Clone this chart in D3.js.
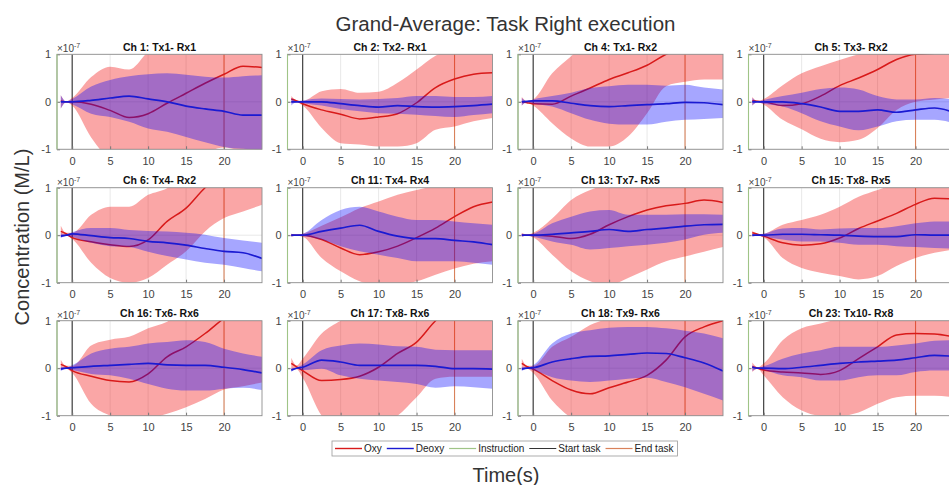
<!DOCTYPE html>
<html>
<head>
<meta charset="utf-8">
<script src="https://cdn.jsdelivr.net/npm/d3@7"></script>
<style>
  html, body { margin: 0; padding: 0; background: #fff; }
  svg { display: block; font-family: "Liberation Sans", Arial, Helvetica, sans-serif; }
</style>
</head>
<body>
<svg id="chart" width="949" height="485"></svg>
<script>
// ---- data (concentration in units of 1e-7 M/L) ----
const chartTitle = "Grand-Average: Task Right execution";
const xLabel = "Time(s)";
const yLabel = "Concentration (M/L)";

const panelTitles = [
  "Ch 1: Tx1- Rx1", "Ch 2: Tx2- Rx1", "Ch 4: Tx1- Rx2", "Ch 5: Tx3- Rx2",
  "Ch 6: Tx4- Rx2", "Ch 11: Tx4- Rx4", "Ch 13: Tx7- Rx5", "Ch 15: Tx8- Rx5",
  "Ch 16: Tx6- Rx6", "Ch 17: Tx8- Rx6", "Ch 18: Tx9- Rx6", "Ch 23: Tx10- Rx8"
];

const times = [-1.5, -0.8, 0, 2.5, 5, 7.5, 10, 12.5, 15, 17.5, 20, 22.5, 25];

const xTicks = [0, 5, 10, 15, 20];
const yTicks = [-1, 0, 1];
const xDomain = [-2, 25];
const yDomain = [-1, 1];

const eventNames = ["Instruction", "Start task", "End task"];
const eventTimes = [-2, 0, 20];

const seriesNames = ["Oxy", "Deoxy"];

const oxyMean = [
  [0.02, 0.0, 0.0, -0.05, -0.18, -0.33, -0.25, -0.03, 0.18, 0.39, 0.58, 0.75, 0.72],
  [0.06, 0.02, -0.04, -0.17, -0.26, -0.36, -0.32, -0.25, -0.02, 0.3, 0.48, 0.58, 0.61],
  [0.0, -0.02, -0.04, -0.05, 0.12, 0.29, 0.47, 0.61, 0.77, 1.0, 1.15, 1.3, 1.4],
  [0.02, 0.01, 0.0, -0.08, -0.04, 0.12, 0.34, 0.5, 0.68, 0.89, 1.0, 1.02, 1.05],
  [0.08, 0.03, -0.05, -0.14, -0.2, -0.24, -0.1, 0.29, 0.57, 1.0, 1.3, 1.5, 1.7],
  [0.0, 0.0, 0.0, -0.09, -0.27, -0.41, -0.35, -0.23, -0.05, 0.15, 0.39, 0.6, 0.7],
  [0.0, 0.0, 0.0, -0.02, -0.07, 0.02, 0.22, 0.39, 0.53, 0.62, 0.67, 0.74, 0.69],
  [0.05, 0.02, -0.02, -0.16, -0.21, -0.18, -0.06, 0.14, 0.3, 0.46, 0.65, 0.78, 0.76],
  [0.08, 0.03, -0.05, -0.17, -0.26, -0.29, -0.12, 0.24, 0.45, 0.73, 1.05, 1.3, 1.5],
  [0.1, 0.03, -0.05, -0.26, -0.24, -0.17, 0.02, 0.31, 0.55, 1.0, 1.3, 1.5, 1.7],
  [0.1, 0.03, -0.02, -0.26, -0.46, -0.54, -0.41, -0.29, -0.15, 0.17, 0.66, 0.87, 1.0],
  [0.03, 0.0, -0.04, -0.08, -0.1, -0.13, -0.05, 0.2, 0.45, 0.7, 0.73, 0.72, 0.66]
];
const oxyLow = [
  [-0.14, -0.01, -0.08, -0.75, -1.2, -1.3, -1.3, -1.25, -1.1, -1.05, -0.96, -1.03, -1.05],
  [-0.03, -0.01, -0.08, -0.55, -0.87, -0.9, -0.94, -0.94, -0.87, -0.59, -0.52, -0.41, -0.34],
  [-0.08, -0.01, -0.08, -0.45, -0.77, -0.94, -0.94, -0.73, -0.24, 0.33, 0.42, 0.47, 0.47],
  [-0.08, -0.01, -0.06, -0.38, -0.58, -0.78, -0.85, -0.8, -0.55, -0.17, 0.0, 0.05, 0.08],
  [-0.02, -0.01, -0.08, -0.58, -0.9, -1.0, -0.9, -0.62, -0.34, 0.08, 0.36, 0.5, 0.64],
  [-0.03, -0.01, -0.03, -0.48, -0.76, -0.97, -1.05, -1.05, -0.97, -0.83, -0.7, -0.6, -0.55],
  [-0.03, -0.01, -0.05, -0.41, -0.76, -0.97, -1.05, -0.9, -0.72, -0.55, -0.45, -0.35, -0.25],
  [-0.02, -0.01, -0.05, -0.48, -0.69, -0.79, -0.86, -0.93, -0.86, -0.65, -0.48, -0.37, -0.3],
  [-0.02, -0.01, -0.1, -0.75, -1.0, -1.1, -1.07, -0.96, -0.82, -0.65, -0.45, -0.38, -0.3],
  [-0.02, -0.02, -0.2, -1.0, -1.3, -1.3, -1.2, -1.0, -0.61, -0.22, -0.18, -0.18, -0.18],
  [-0.02, -0.01, -0.1, -0.68, -1.05, -1.3, -1.3, -1.3, -1.3, -1.3, -1.2, -1.1, -1.05],
  [-0.08, -0.01, -0.15, -0.61, -0.89, -1.0, -1.0, -0.93, -0.75, -0.61, -0.58, -0.58, -0.61]
];
const oxyHigh = [
  [0.14, 0.01, 0.08, 0.52, 0.74, 0.68, 1.05, 1.3, 1.4, 1.5, 1.6, 1.7, 1.7],
  [0.12, 0.03, 0.02, 0.22, 0.27, 0.19, 0.21, 0.4, 0.68, 0.97, 1.1, 1.2, 1.3],
  [0.1, 0.01, 0.05, 0.6, 0.96, 1.3, 1.5, 1.6, 1.7, 1.8, 1.9, 2.0, 2.0],
  [0.1, 0.01, 0.06, 0.35, 0.6, 0.75, 0.88, 1.0, 1.1, 1.2, 1.3, 1.4, 1.5],
  [0.2, 0.05, 0.05, 0.43, 0.6, 0.6, 0.85, 0.99, 1.3, 1.6, 1.9, 2.1, 2.3],
  [0.03, 0.01, 0.03, 0.2, 0.38, 0.57, 0.71, 0.85, 0.95, 1.05, 1.2, 1.4, 1.5],
  [0.05, 0.01, 0.05, 0.35, 0.74, 0.95, 1.1, 1.3, 1.4, 1.5, 1.6, 1.7, 1.7],
  [0.1, 0.02, 0.03, 0.22, 0.32, 0.43, 0.6, 0.81, 0.95, 1.1, 1.3, 1.5, 1.6],
  [0.18, 0.05, 0.05, 0.48, 0.6, 0.66, 0.84, 0.98, 1.2, 1.4, 1.6, 1.8, 2.0],
  [0.22, 0.06, 0.2, 0.73, 1.0, 1.2, 1.4, 1.6, 1.8, 2.0, 2.2, 2.3, 2.4],
  [0.2, 0.05, 0.05, 0.45, 0.66, 0.91, 1.05, 1.2, 1.4, 1.6, 1.9, 2.1, 2.2],
  [0.12, 0.02, 0.1, 0.59, 0.84, 0.94, 1.05, 1.2, 1.4, 1.6, 1.7, 1.8, 1.9]
];

const deoxyMean = [
  [0.0, 0.0, 0.0, 0.03, 0.08, 0.12, 0.06, 0.0, -0.09, -0.15, -0.2, -0.28, -0.28],
  [0.0, 0.0, 0.0, 0.0, -0.04, -0.08, -0.11, -0.08, -0.1, -0.11, -0.1, -0.08, -0.05],
  [0.0, 0.01, 0.02, 0.02, -0.03, -0.08, -0.1, -0.08, -0.06, -0.04, -0.01, -0.02, -0.06],
  [0.0, 0.0, 0.0, 0.0, -0.04, -0.11, -0.2, -0.2, -0.17, -0.22, -0.17, -0.13, -0.22],
  [-0.02, 0.0, 0.03, -0.01, -0.05, -0.07, -0.13, -0.16, -0.21, -0.28, -0.34, -0.37, -0.49],
  [0.0, 0.0, 0.0, 0.08, 0.15, 0.21, 0.08, -0.02, -0.07, -0.07, -0.11, -0.14, -0.2],
  [0.0, 0.0, 0.0, 0.02, 0.05, 0.08, 0.12, 0.08, 0.12, 0.15, 0.19, 0.22, 0.23],
  [0.0, 0.0, 0.0, 0.02, 0.02, 0.01, 0.0, -0.02, -0.03, -0.03, 0.01, 0.0, 0.0],
  [-0.02, 0.0, 0.01, 0.04, 0.06, 0.08, 0.1, 0.07, 0.06, 0.06, 0.02, -0.03, -0.1],
  [-0.04, 0.0, 0.02, 0.17, 0.13, 0.06, 0.06, 0.06, 0.06, 0.04, -0.01, -0.01, -0.02],
  [-0.02, 0.0, 0.01, 0.13, 0.2, 0.25, 0.26, 0.29, 0.32, 0.31, 0.22, 0.11, -0.06],
  [0.02, 0.0, 0.0, -0.01, 0.02, 0.06, 0.1, 0.13, 0.15, 0.17, 0.22, 0.27, 0.25]
];
const deoxyLow = [
  [-0.14, -0.01, -0.05, -0.25, -0.32, -0.42, -0.56, -0.63, -0.74, -0.85, -0.95, -0.99, -1.02],
  [-0.08, -0.01, -0.03, -0.08, -0.15, -0.2, -0.24, -0.25, -0.27, -0.3, -0.32, -0.28, -0.24],
  [-0.08, -0.01, -0.04, -0.1, -0.24, -0.38, -0.46, -0.48, -0.48, -0.42, -0.38, -0.36, -0.34],
  [-0.08, -0.01, -0.04, -0.1, -0.24, -0.41, -0.52, -0.6, -0.52, -0.41, -0.38, -0.38, -0.45],
  [-0.06, -0.01, -0.04, -0.16, -0.23, -0.25, -0.35, -0.44, -0.51, -0.58, -0.62, -0.69, -0.76],
  [-0.03, -0.01, -0.02, -0.09, -0.23, -0.34, -0.41, -0.48, -0.55, -0.55, -0.55, -0.58, -0.62],
  [-0.03, -0.01, -0.03, -0.13, -0.2, -0.3, -0.27, -0.23, -0.2, -0.16, -0.09, 0.01, 0.05],
  [-0.03, -0.01, -0.03, -0.09, -0.13, -0.13, -0.16, -0.2, -0.2, -0.23, -0.25, -0.27, -0.28],
  [-0.06, -0.01, -0.04, -0.12, -0.15, -0.22, -0.33, -0.43, -0.47, -0.47, -0.43, -0.41, -0.46],
  [-0.08, -0.01, -0.04, -0.01, -0.15, -0.22, -0.26, -0.29, -0.33, -0.41, -0.38, -0.4, -0.43],
  [-0.06, -0.01, -0.04, -0.19, -0.26, -0.29, -0.26, -0.22, -0.2, -0.29, -0.4, -0.54, -0.68],
  [-0.06, -0.01, -0.04, -0.15, -0.19, -0.26, -0.26, -0.19, -0.15, -0.15, -0.08, -0.05, -0.05]
];
const deoxyHigh = [
  [0.14, 0.01, 0.06, 0.32, 0.46, 0.54, 0.58, 0.6, 0.57, 0.53, 0.51, 0.54, 0.56],
  [0.08, 0.01, 0.03, 0.07, 0.06, 0.05, 0.06, 0.08, 0.12, 0.12, 0.1, 0.1, 0.12],
  [0.08, 0.01, 0.05, 0.12, 0.19, 0.29, 0.33, 0.36, 0.36, 0.34, 0.36, 0.3, 0.26],
  [0.08, 0.01, 0.04, 0.12, 0.19, 0.27, 0.3, 0.26, 0.12, 0.05, 0.05, 0.08, 0.05],
  [0.04, 0.01, 0.06, 0.15, 0.15, 0.11, 0.09, 0.08, 0.05, 0.01, -0.06, -0.11, -0.16],
  [0.03, 0.01, 0.03, 0.32, 0.53, 0.6, 0.5, 0.39, 0.32, 0.32, 0.29, 0.25, 0.22],
  [0.03, 0.01, 0.03, 0.25, 0.39, 0.5, 0.53, 0.43, 0.43, 0.43, 0.44, 0.44, 0.43],
  [0.03, 0.01, 0.03, 0.14, 0.15, 0.12, 0.14, 0.15, 0.15, 0.19, 0.25, 0.29, 0.29],
  [0.03, 0.01, 0.06, 0.31, 0.41, 0.45, 0.52, 0.55, 0.59, 0.55, 0.41, 0.31, 0.24],
  [0.0, 0.01, 0.08, 0.38, 0.48, 0.52, 0.5, 0.46, 0.45, 0.39, 0.38, 0.38, 0.38],
  [0.03, 0.01, 0.06, 0.52, 0.73, 0.8, 0.85, 0.87, 0.87, 0.84, 0.79, 0.73, 0.63],
  [0.06, 0.01, 0.04, 0.2, 0.31, 0.38, 0.45, 0.45, 0.45, 0.48, 0.52, 0.58, 0.59]
];

// ---- styling ----
const oxyColor = "#d81a1a";
const deoxyColor = "#1a1ad2";
const oxyFill = "rgb(240,0,0)";
const deoxyFill = "rgb(0,0,255)";
const fillOpacity = 0.35;
const eventColors = ["#9fc487", "#333333", "#d9825b"];
const textColor = "#444";

// ---- layout ----
const colLeft = [57, 287.5, 518, 748.5];
const rowTop = [54.3, 187.7, 320.7];
const pw = 205, ph = 95;

const svg = d3.select("#chart");

const x = d3.scaleLinear().domain(xDomain).range([0, pw]);
const y = d3.scaleLinear().domain(yDomain).range([ph, 0]);

const lineGen = d3.line()
  .x((d, i) => x(times[i]))
  .y(d => y(d))
  .curve(d3.curveMonotoneX);

const bandGen = d3.area()
  .x(d => x(d.t))
  .y0(d => y(d.lo))
  .y1(d => y(d.hi))
  .curve(d3.curveMonotoneX);

const band = (lo, hi) => times.map((t, i) => ({ t, lo: lo[i], hi: hi[i] }));

panelTitles.forEach((title, p) => {
  const col = p % 4, row = Math.floor(p / 4);
  const g = svg.append("g")
    .attr("transform", `translate(${colLeft[col]},${rowTop[row]})`);

  const clipId = "clip" + p;
  g.append("clipPath").attr("id", clipId)
    .append("rect").attr("width", pw).attr("height", ph);

  const plot = g.append("g").attr("clip-path", `url(#${clipId})`);

  // grid
  plot.selectAll(".vgrid").data(xTicks).enter().append("line")
    .attr("x1", d => x(d)).attr("x2", d => x(d))
    .attr("y1", 0).attr("y2", ph)
    .attr("stroke", "#e2e2e2").attr("stroke-width", 0.8);
  plot.selectAll(".hgrid").data(yTicks).enter().append("line")
    .attr("x1", 0).attr("x2", pw)
    .attr("y1", d => y(d)).attr("y2", d => y(d))
    .attr("stroke", "#e2e2e2").attr("stroke-width", 0.8);

  // task event markers (start / end)
  eventTimes.forEach((t, k) => {
    if (k === 0) return;
    plot.append("line")
      .attr("x1", x(t)).attr("x2", x(t))
      .attr("y1", 0).attr("y2", ph)
      .attr("stroke", eventColors[k]).attr("stroke-width", 1.1);
  });

  // HbO band and mean
  plot.append("path")
    .attr("d", bandGen(band(oxyLow[p], oxyHigh[p])))
    .attr("fill", oxyFill).attr("fill-opacity", fillOpacity);
  plot.append("path")
    .attr("d", lineGen(oxyMean[p]))
    .attr("fill", "none").attr("stroke", oxyColor).attr("stroke-width", 1.5);

  // HbR band and mean
  plot.append("path")
    .attr("d", bandGen(band(deoxyLow[p], deoxyHigh[p])))
    .attr("fill", deoxyFill).attr("fill-opacity", fillOpacity);
  plot.append("path")
    .attr("d", lineGen(deoxyMean[p]))
    .attr("fill", "none").attr("stroke", deoxyColor).attr("stroke-width", 1.7);

  // axes
  const xa = g.append("g").attr("transform", `translate(0,${ph})`)
    .call(d3.axisBottom(x).tickValues(xTicks).tickSize(-3).tickPadding(7.5)
      .tickFormat(d => String(d)));
  const ya = g.append("g")
    .call(d3.axisLeft(y).tickValues(yTicks).tickSize(-3).tickPadding(6)
      .tickFormat(d => String(d)));
  [xa, ya].forEach(a => {
    a.select(".domain").remove();
    a.selectAll(".tick line").attr("stroke", "#777");
    a.selectAll("text").attr("fill", textColor)
      .style("font-size", "11px")
      .style("font-family", '"Liberation Sans", Arial, sans-serif');
  });

  // box
  g.append("rect").attr("width", pw).attr("height", ph)
    .attr("fill", "none").attr("stroke", "#8e8e8e").attr("stroke-width", 0.9);

  // instruction marker sits on the left edge
  g.append("line")
    .attr("x1", x(eventTimes[0])).attr("x2", x(eventTimes[0]))
    .attr("y1", 0).attr("y2", ph)
    .attr("stroke", eventColors[0]).attr("stroke-width", 1.1);

  // exponent label
  const ex = g.append("text").attr("x", 0).attr("y", -2.2)
    .attr("fill", textColor).style("font-size", "10px");
  ex.append("tspan").text("\u00d710");
  ex.append("tspan").attr("dy", -4).style("font-size", "7px").text("-7");

  // panel title
  g.append("text")
    .attr("x", pw / 2).attr("y", -3.6)
    .attr("text-anchor", "middle")
    .attr("fill", "#111")
    .style("font-size", "10.5px").style("font-weight", "bold")
    .text(title);
});

// ---- figure title and shared labels ----
svg.append("text")
  .attr("x", 505.5).attr("y", 31)
  .attr("text-anchor", "middle").attr("fill", "#333")
  .style("font-size", "20.5px")
  .text(chartTitle);

svg.append("text")
  .attr("x", 506).attr("y", 481.5)
  .attr("text-anchor", "middle").attr("fill", "#333")
  .style("font-size", "20px")
  .text(xLabel);

svg.append("text")
  .attr("transform", "translate(29,237) rotate(-90)")
  .attr("text-anchor", "middle").attr("fill", "#333")
  .style("font-size", "20px")
  .text(yLabel);

// ---- legend ----
const legendItems = [
  { name: seriesNames[0], color: oxyColor, w: 1.4 },
  { name: seriesNames[1], color: deoxyColor, w: 1.4 },
  { name: eventNames[0], color: eventColors[0], w: 1.2 },
  { name: eventNames[1], color: eventColors[1], w: 1.0 },
  { name: eventNames[2], color: eventColors[2], w: 1.2 }
];
const legend = svg.append("g");
const legBox = legend.append("rect")
  .attr("x", 332).attr("y", 441).attr("height", 15)
  .attr("fill", "#fff").attr("stroke", "#9a9a9a").attr("stroke-width", 0.8);
let cx = 335;
const ly = 448.5;
legendItems.forEach(it => {
  legend.append("line")
    .attr("x1", cx).attr("x2", cx + 27).attr("y1", ly).attr("y2", ly)
    .attr("stroke", it.color).attr("stroke-width", it.w);
  const t = legend.append("text")
    .attr("x", cx + 29).attr("y", ly + 3.6)
    .attr("fill", "#222").style("font-size", "10px")
    .text(it.name);
  cx = cx + 29 + t.node().getComputedTextLength() + 5;
});
legBox.attr("width", cx - 1 - 332);
</script>
</body>
</html>
